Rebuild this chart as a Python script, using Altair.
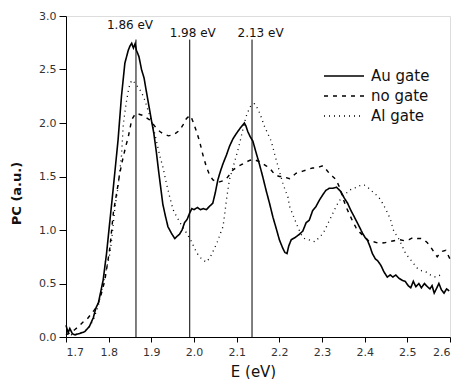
import altair as alt
import pandas as pd

# ---------------- data ----------------
au_x = [1.700, 1.705, 1.709, 1.715, 1.721, 1.730, 1.744, 1.755, 1.764, 1.770, 1.776, 1.787, 1.795,
        1.803, 1.811, 1.822, 1.830, 1.838, 1.846, 1.850, 1.854, 1.858, 1.862, 1.865, 1.871, 1.877,
        1.883, 1.889, 1.900, 1.906, 1.912, 1.918, 1.927, 1.933, 1.939, 1.947, 1.955, 1.960, 1.966,
        1.972, 1.978, 1.984, 1.990, 1.995, 2.000, 2.008, 2.015, 2.022, 2.029, 2.036, 2.044, 2.050,
        2.056, 2.062, 2.068, 2.076, 2.083, 2.091, 2.099, 2.108, 2.118, 2.122, 2.126, 2.132, 2.138,
        2.145, 2.153, 2.161, 2.169, 2.177, 2.185, 2.193, 2.200, 2.208, 2.213, 2.218, 2.222, 2.228,
        2.237, 2.247, 2.255, 2.263, 2.270, 2.278, 2.286, 2.294, 2.302, 2.309, 2.317, 2.325, 2.334,
        2.344, 2.352, 2.360, 2.368, 2.376, 2.385, 2.395, 2.401, 2.407, 2.413, 2.418, 2.425, 2.431,
        2.438, 2.445, 2.453, 2.460, 2.466, 2.473, 2.480, 2.488, 2.495, 2.502, 2.508, 2.514, 2.520,
        2.527, 2.533, 2.540, 2.547, 2.553, 2.558, 2.563, 2.568, 2.574, 2.580, 2.586, 2.592, 2.598]
au_y = [0.11, 0.04, 0.08, 0.03, 0.02, 0.03, 0.05, 0.10, 0.18, 0.27, 0.32, 0.53, 0.78,
        1.09, 1.40, 1.84, 2.25, 2.56, 2.68, 2.72, 2.745, 2.70, 2.74, 2.68, 2.62, 2.50,
        2.42, 2.28, 2.03, 1.90, 1.72, 1.52, 1.24, 1.13, 1.03, 0.97, 0.92, 0.94, 0.96,
        1.00, 1.07, 1.10, 1.16, 1.20, 1.19, 1.21, 1.19, 1.20, 1.19, 1.22, 1.25, 1.35,
        1.47, 1.55, 1.62, 1.70, 1.78, 1.85, 1.90, 1.95, 2.00, 1.97, 1.92, 1.87, 1.83,
        1.73, 1.62, 1.50, 1.37, 1.25, 1.12, 1.01, 0.91, 0.83, 0.79, 0.78, 0.85, 0.91,
        0.93, 0.96, 0.99, 1.07, 1.09, 1.18, 1.22, 1.28, 1.33, 1.37, 1.39, 1.39, 1.40,
        1.36, 1.30, 1.25, 1.18, 1.12, 1.05, 0.97, 0.93, 0.90, 0.84, 0.78, 0.73, 0.71,
        0.67, 0.61, 0.56, 0.58, 0.56, 0.58, 0.55, 0.53, 0.52, 0.48, 0.46, 0.52, 0.47,
        0.50, 0.46, 0.50, 0.47, 0.45, 0.48, 0.41, 0.45, 0.50, 0.44, 0.41, 0.45, 0.43]

no_x = [1.700, 1.710, 1.721, 1.730, 1.740, 1.750, 1.760, 1.768, 1.776, 1.784, 1.791, 1.797, 1.803,
        1.807, 1.811, 1.815, 1.819, 1.826, 1.834, 1.840, 1.846, 1.854, 1.860, 1.865, 1.873, 1.881,
        1.888, 1.896, 1.904, 1.912, 1.920, 1.927, 1.940, 1.951, 1.959, 1.966, 1.974, 1.982, 1.990,
        1.994, 1.998, 2.006, 2.013, 2.021, 2.029, 2.036, 2.044, 2.052, 2.060, 2.068, 2.076, 2.084,
        2.091, 2.101, 2.111, 2.120, 2.130, 2.138, 2.146, 2.153, 2.161, 2.169, 2.177, 2.185, 2.193,
        2.200, 2.208, 2.216, 2.224, 2.231, 2.239, 2.247, 2.255, 2.263, 2.270, 2.278, 2.286, 2.294,
        2.302, 2.309, 2.317, 2.325, 2.333, 2.341, 2.349, 2.356, 2.364, 2.372, 2.380, 2.388, 2.396,
        2.404, 2.411, 2.421, 2.434, 2.446, 2.457, 2.469, 2.481, 2.493, 2.504, 2.514, 2.524, 2.532,
        2.539, 2.547, 2.555, 2.563, 2.570, 2.576, 2.582, 2.590, 2.595, 2.601]
no_y = [0.02, 0.04, 0.07, 0.10, 0.14, 0.17, 0.22, 0.26, 0.32, 0.42, 0.53, 0.68, 0.84,
        1.00, 1.16, 1.26, 1.35, 1.53, 1.68, 1.78, 1.87, 2.03, 2.07, 2.09, 2.08, 2.07,
        2.05, 2.03, 1.99, 1.95, 1.92, 1.90, 1.88, 1.89, 1.91, 1.93, 1.98, 2.04, 2.07,
        2.05, 2.01, 1.92, 1.83, 1.70, 1.59, 1.52, 1.47, 1.45, 1.45, 1.46, 1.48, 1.52,
        1.56, 1.59, 1.61, 1.63, 1.65, 1.66, 1.65, 1.64, 1.62, 1.60, 1.58, 1.54, 1.51,
        1.50, 1.50, 1.49, 1.48, 1.50, 1.53, 1.54, 1.55, 1.56, 1.57, 1.58, 1.58, 1.59,
        1.60, 1.57, 1.53, 1.50, 1.47, 1.40, 1.30, 1.22, 1.15, 1.08, 1.02, 0.98, 0.95,
        0.92, 0.89, 0.89, 0.875, 0.88, 0.89, 0.90, 0.91, 0.90, 0.91, 0.93, 0.92, 0.92,
        0.91, 0.88, 0.84, 0.79, 0.75, 0.78, 0.80, 0.81, 0.77, 0.72]

al_x = [1.700, 1.715, 1.730, 1.745, 1.756, 1.766, 1.776, 1.787, 1.795, 1.803, 1.807, 1.815, 1.822,
        1.826, 1.830, 1.834, 1.838, 1.842, 1.846, 1.850, 1.855, 1.860, 1.866, 1.872, 1.880, 1.886,
        1.892, 1.898, 1.904, 1.912, 1.920, 1.927, 1.935, 1.943, 1.951, 1.960, 1.970, 1.978, 1.986,
        1.993, 2.000, 2.006, 2.013, 2.021, 2.029, 2.035, 2.041, 2.048, 2.056, 2.062, 2.068, 2.072,
        2.076, 2.083, 2.091, 2.099, 2.107, 2.114, 2.122, 2.128, 2.134, 2.142, 2.150, 2.157, 2.165,
        2.173, 2.181, 2.187, 2.193, 2.200, 2.208, 2.214, 2.220, 2.224, 2.230, 2.235, 2.243, 2.251,
        2.259, 2.267, 2.275, 2.284, 2.291, 2.298, 2.304, 2.309, 2.315, 2.321, 2.327, 2.333, 2.340,
        2.348, 2.356, 2.364, 2.373, 2.383, 2.391, 2.399, 2.407, 2.415, 2.424, 2.434, 2.442, 2.450,
        2.456, 2.461, 2.465, 2.469, 2.475, 2.481, 2.488, 2.496, 2.502, 2.508, 2.516, 2.524, 2.533,
        2.543, 2.554, 2.566, 2.572, 2.578]
al_y = [0.03, 0.02, 0.03, 0.06, 0.10, 0.18, 0.30, 0.50, 0.64, 0.78, 0.91, 1.22, 1.40,
        1.55, 1.69, 1.97, 2.10, 2.21, 2.30, 2.37, 2.40, 2.38, 2.35, 2.32, 2.26, 2.20,
        2.12, 2.05, 1.97, 1.83, 1.69, 1.59, 1.44, 1.31, 1.19, 1.12, 1.05, 1.00, 0.95,
        0.90, 0.84, 0.79, 0.75, 0.72, 0.70, 0.73, 0.77, 0.83, 0.90, 0.97, 1.03, 1.15,
        1.28, 1.47, 1.58, 1.69, 1.81, 1.93, 2.06, 2.12, 2.17, 2.18, 2.13, 2.06, 1.97,
        1.90, 1.83, 1.74, 1.65, 1.55, 1.44, 1.37, 1.31, 1.22, 1.16, 1.11, 1.03, 0.96,
        0.92, 0.91, 0.90, 0.89, 0.92, 0.95, 0.98, 1.02, 1.07, 1.12, 1.17, 1.22, 1.27,
        1.31, 1.34, 1.37, 1.39, 1.40, 1.42, 1.42, 1.40, 1.37, 1.34, 1.30, 1.25, 1.19,
        1.14, 1.09, 1.03, 0.98, 0.95, 0.91, 0.85, 0.78, 0.75, 0.72, 0.68, 0.64, 0.62,
        0.61, 0.58, 0.56, 0.57, 0.58]

series_names = ["Au gate", "no gate", "Al gate"]

# vertical marker lines (energies) and their annotations
marker_x = [1.864, 1.990, 2.136]
marker_top = [2.78, 2.78, 2.78]
label_text = ["1.86 eV", "1.98 eV", "2.13 eV"]
label_x = [1.850, 1.997, 2.156]
label_y = [2.92, 2.84, 2.84]

y_ticks = [round(i * 0.25, 2) for i in range(13)]
x_ticks = [round(1.70 + i * 0.05, 2) for i in range(19)]

# ---------------- build tables ----------------
rows = []
for name, xs, ys in [("Au gate", au_x, au_y), ("no gate", no_x, no_y), ("Al gate", al_x, al_y)]:
    for i, (a, b) in enumerate(zip(xs, ys)):
        rows.append({"E": a, "PC": b, "series": name, "order": i})
df = pd.DataFrame(rows)
markers = pd.DataFrame({"E": marker_x, "top": marker_top, "zero": [0.0] * 3})
labels = pd.DataFrame({"E": label_x, "PC": label_y, "text": label_text})

FONT = "DejaVu Sans"

x_scale = alt.Scale(domain=[1.7, 2.6], nice=False, zero=False)
y_scale = alt.Scale(domain=[0, 3.0], nice=False)

x_axis = alt.Axis(
    values=x_ticks, format=".1f",
    labelExpr="round(datum.value*20) % 2 == 1 ? '' : datum.label",
    tickSize={"condition": {"test": "round(datum.value*20) % 2 == 1", "value": 3}, "value": 5},
    grid=False, domainColor="black", tickColor="black", labelColor="#333",
    labelFont=FONT, labelFontSize=11, labelPadding=4,
    title="E (eV)", titleFont=FONT, titleFontSize=15, titleFontWeight="normal", titleColor="#111",
    titleX=187, titleY=34, titleBaseline="middle", titleAlign="center",
)
y_axis = alt.Axis(
    values=y_ticks, format=".1f",
    labelExpr="round(datum.value*4) % 2 == 1 ? '' : datum.label",
    tickSize={"condition": {"test": "round(datum.value*4) % 2 == 1", "value": 3}, "value": 7},
    grid=False, domainColor="black", tickColor="black", labelColor="#333",
    labelFont=FONT, labelFontSize=11, labelPadding=3,
    title="PC (a.u.)", titleFont=FONT, titleFontSize=13, titleFontWeight="bold", titleColor="#111",
    titleX=-50, titleY=177, titleBaseline="middle", titleAlign="center", titleAngle=270,
)

lines = alt.Chart(df).mark_line(color="black", strokeCap="butt").encode(
    x=alt.X("E:Q", scale=x_scale, axis=x_axis),
    y=alt.Y("PC:Q", scale=y_scale, axis=y_axis),
    strokeDash=alt.StrokeDash(
        "series:N",
        scale=alt.Scale(domain=series_names, range=[[1, 0], [4, 5], [1, 4]]),
        legend=alt.Legend(
            orient="none", legendX=277, legendY=49, title=None,
            symbolType="M-3,0H1", symbolSize=400, symbolStrokeWidth=1,
            symbolStrokeColor="black", symbolFillColor="transparent",
            labelFont=FONT, labelFontSize=15,
            labelColor="#111", labelOffset=6, rowPadding=1,
        ),
    ),
    strokeWidth=alt.StrokeWidth(
        "series:N", scale=alt.Scale(domain=series_names, range=[1.6, 1.3, 1.3]), legend=None
    ),
    detail="series:N",
    order="order:Q",
)

rules = alt.Chart(markers).mark_rule(color="black", strokeWidth=1).encode(
    x="E:Q", y="zero:Q", y2="top:Q"
)

texts = alt.Chart(labels).mark_text(font=FONT, fontSize=12, color="#111", baseline="middle").encode(
    x="E:Q", y="PC:Q", text="text:N"
)

chart = alt.layer(lines, rules, texts).properties(
    width=384, height=321,
    autosize=alt.AutoSizeParams(type="none"),
    padding={"left": 58, "top": 8, "right": 4, "bottom": 42},
).configure_view(stroke=None).configure(background="white")

chart.save("out.html", embed_options={"renderer": "svg", "actions": False})
